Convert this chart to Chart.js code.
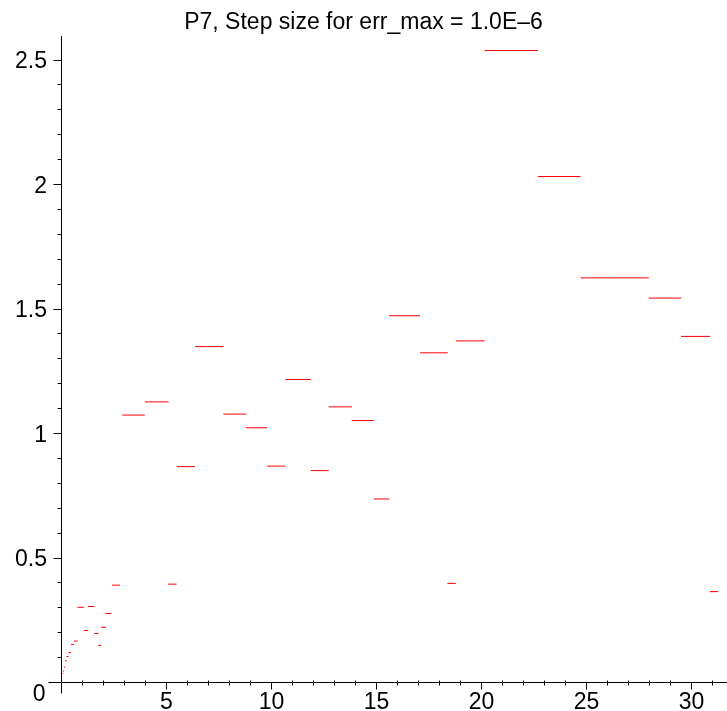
<!DOCTYPE html>
<html>
<head>
<meta charset="utf-8">
<script src="https://cdn.jsdelivr.net/npm/chart.js@4/dist/chart.umd.min.js"></script>
<style>
  html, body { margin: 0; padding: 0; background: #fff; }
  canvas { display: block; }
</style>
</head>
<body>
<canvas id="chart" width="727" height="711"></canvas>
<script>
// each accepted step: from stepStart to stepEnd, drawn at the height of its size
var stepStart = [0, 0.01, 0.025, 0.045, 0.075, 0.11, 0.165, 0.24, 0.33, 0.45, 0.60,
	0.76, 1.06, 1.26, 1.56, 1.74, 1.88, 2.10, 2.40, 2.89, 3.97,
	5.08, 5.49, 6.36, 7.71, 8.78, 9.79, 10.66, 11.87, 12.72, 13.82,
	14.87, 15.60, 17.07, 18.38, 18.78, 20.15, 22.69, 24.72, 26.34, 27.96,
	29.50, 30.88];
var stepEnd = [0.006, 0.022, 0.049, 0.081, 0.121, 0.172, 0.252, 0.344, 0.45, 0.603, 0.766,
	1.062, 1.269, 1.565, 1.757, 1.889, 2.122, 2.377, 2.791, 3.964, 5.097,
	5.475, 6.357, 7.709, 8.788, 9.803, 10.659, 11.877, 12.721, 13.827, 14.872,
	15.607, 17.073, 18.394, 18.778, 20.152, 22.688, 24.722, 26.345, 27.965, 29.504,
	30.89, 31.27];
var stepSize = [0.006, 0.012, 0.024, 0.036, 0.046, 0.062, 0.087, 0.104, 0.120, 0.153, 0.166,
	0.302, 0.209, 0.305, 0.197, 0.149, 0.222, 0.277, 0.391, 1.074, 1.127,
	0.395, 0.867, 1.349, 1.078, 1.023, 0.869, 1.217, 0.851, 1.107, 1.052,
	0.737, 1.473, 1.324, 0.398, 1.372, 2.538, 2.032, 1.625, 1.625, 1.544,
	1.390, 0.365];

var titleText = 'P7, Step size for err_max = 1.0E\u20136';
var fontFamily = '"Liberation Sans", Arial, Helvetica, sans-serif';

var segData = [];
for (var i = 0; i < stepSize.length; i++) {
	segData.push({x: stepStart[i], y: stepSize[i]});
	segData.push({x: stepEnd[i], y: stepSize[i]});
	segData.push({x: stepEnd[i], y: null});
}

function tickLabel(value, every) {
	var v = Math.round(value * 10) / 10;
	if (Math.abs(value - v) > 1e-6) return null;
	if (v > 0 && Math.abs(v / every - Math.round(v / every)) < 1e-6) return String(v);
	return '';
}

// maple style tick marks, axis stubs past the origin and the shared "0"
var mapleAxes = {
	id: 'mapleAxes',
	afterDraw: function(chart) {
		var ctx = chart.ctx, area = chart.chartArea;
		var xs = chart.scales.x, ys = chart.scales.y;
		var left = Math.floor(area.left) + 0.5, bottom = Math.floor(area.bottom) + 0.5;
		ctx.save();
		ctx.strokeStyle = '#000';
		ctx.lineWidth = 1;
		ctx.beginPath();
		ys.ticks.forEach(function(t) {
			if (t.label === null || t.value <= 0) return;
			var y = Math.floor(ys.getPixelForValue(t.value)) + 0.5;
			var len = t.label ? 8 : 4;
			ctx.moveTo(left - len, y);
			ctx.lineTo(left, y);
		});
		xs.ticks.forEach(function(t) {
			if (t.label === null || t.value <= 0) return;
			var x = Math.floor(xs.getPixelForValue(t.value)) + 0.5;
			if (t.label) {
				ctx.moveTo(x, bottom);
				ctx.lineTo(x, bottom + 7);
			} else {
				ctx.moveTo(x, bottom - 2);
				ctx.lineTo(x, bottom + 3);
			}
		});
		ctx.moveTo(left, bottom);
		ctx.lineTo(left, bottom + 11);
		ctx.moveTo(left - 13, bottom);
		ctx.lineTo(left, bottom);
		ctx.stroke();
		ctx.fillStyle = '#000';
		ctx.font = '23px ' + fontFamily;
		ctx.textAlign = 'right';
		ctx.textBaseline = 'middle';
		ctx.fillText('0', left - 16, bottom + 12);
		ctx.restore();
	}
};

var chartCtx = document.getElementById('chart').getContext('2d');
var thisChart = new Chart(chartCtx, {
	type: 'scatter',
	data: {
		datasets: [{
			label: 'step size',
			data: segData,
			showLine: true,
			spanGaps: false,
			borderColor: '#ff0000',
			borderWidth: 1,
			pointRadius: 0,
			pointHoverRadius: 0
		}]
	},
	options: {
		responsive: false,
		animation: false,
		layout: { padding: 0 },
		plugins: {
			legend: { display: false },
			tooltip: { enabled: false },
			title: {
				display: true,
				text: titleText,
				color: '#000',
				font: { family: fontFamily, size: 23, weight: 'normal' },
				padding: { top: 9, bottom: 0 }
			}
		},
		scales: {
			x: {
				type: 'linear',
				position: 'bottom',
				min: 0,
				max: 31.69,
				grid: { display: false, drawTicks: false },
				border: { display: true, color: '#000', width: 1 },
				ticks: {
					stepSize: 1,
					includeBounds: false,
					autoSkip: false,
					maxRotation: 0,
					padding: 6,
					color: '#000',
					font: { family: fontFamily, size: 23 },
					callback: function(value) { return tickLabel(value, 5); }
				},
				afterFit: function(scale) { scale.height = 28.5; }
			},
			y: {
				type: 'linear',
				position: 'left',
				min: 0,
				max: 2.594,
				grid: { display: false, drawTicks: false },
				border: { display: true, color: '#000', width: 1 },
				ticks: {
					stepSize: 0.1,
					includeBounds: false,
					autoSkip: false,
					padding: 14.5,
					labelOffset: 2,
					color: '#000',
					font: { family: fontFamily, size: 23 },
					callback: function(value) { return tickLabel(value, 0.5); }
				},
				afterFit: function(scale) { scale.width = 61.5; }
			}
		}
	},
	plugins: [mapleAxes]
});
</script>
</body>
</html>
